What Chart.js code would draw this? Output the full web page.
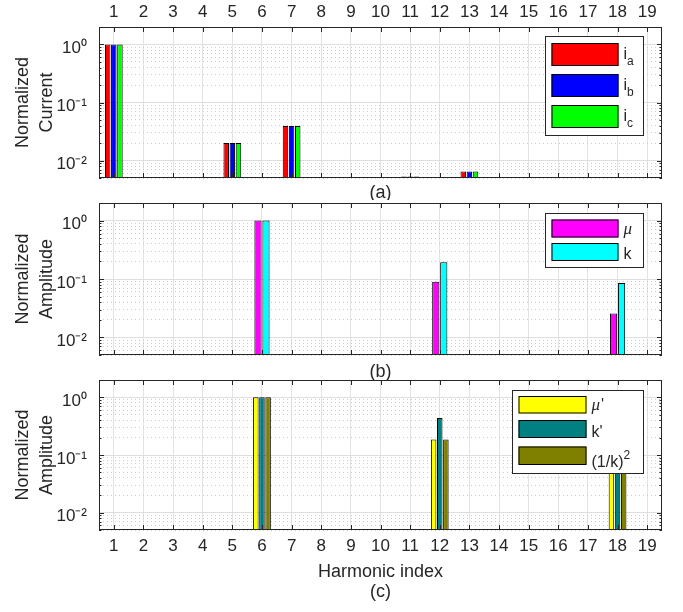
<!DOCTYPE html>
<html>
<head>
<meta charset="utf-8">
<script src="https://cdn.jsdelivr.net/npm/chart.js@4.4.0/dist/chart.umd.min.js"></script>
<style>
  html, body { margin: 0; padding: 0; background: #fff; }
  #wrap { position: relative; width: 683px; height: 612px; }
  .panel { position: absolute; left: 0; width: 683px; }
</style>
</head>
<body>
<div id="wrap">
  <div class="panel" style="top:0;height:200px"><canvas id="chartA"></canvas></div>
  <div class="panel" style="top:190px;height:196px"><canvas id="chartB"></canvas></div>
  <div class="panel" style="top:366px;height:246px"><canvas id="chartC"></canvas></div>
</div>
<script>
const harmonics = ['1','2','3','4','5','6','7','8','9','10','11','12','13','14','15','16','17','18','19'];

// (a) normalized phase currents (null = below the axis floor)
const currentA = [1, null, null, null, 0.0201, null, 0.0395, null, null, null, 0.0053, null, 0.0065, null, null, null, null, null, null];
const currentB = [1, null, null, null, 0.0201, null, 0.0395, null, null, null, 0.0053, null, 0.0065, null, null, null, null, null, null];
const currentC = [1, null, null, null, 0.0201, null, 0.0395, null, null, null, 0.0053, null, 0.0065, null, null, null, null, null, null];

// (b)
const mu = [null, null, null, null, null, 1, null, null, null, null, null, 0.0898, null, null, null, null, null, 0.0256, null];
const kAmp = [null, null, null, null, null, 1, null, null, null, null, null, 0.193, null, null, null, null, null, 0.085, null];

// (c)
const muPrime = [null, null, null, null, null, 1, null, null, null, null, null, 0.185, null, null, null, null, null, 0.08, null];
const kPrime = [null, null, null, null, null, 1, null, null, null, null, null, 0.44, null, null, null, null, null, 0.15, null];
const invK2 = [null, null, null, null, null, 1, null, null, null, null, null, 0.185, null, null, null, null, null, 0.08, null];

// log axis ticks
const yTickValues = [0.005, 0.006, 0.007, 0.008, 0.009, 0.01, 0.02, 0.03, 0.04, 0.05, 0.06, 0.07, 0.08, 0.09,
                     0.1, 0.2, 0.3, 0.4, 0.5, 0.6, 0.7, 0.8, 0.9, 1, 2];
const decadeLabels = { '0.01': '10\u207B\u00B2', '0.1': '10\u207B\u00B9', '1': '10\u2070' };

const TXT = '#262626';
const FONT = "'Liberation Sans', Arial, sans-serif";
Chart.defaults.font.family = FONT;
Chart.defaults.color = TXT;

// box, inside ticks on all four sides
const axesBox = {
  id: 'axesBox',
  afterDatasetsDraw(chart) {
    const { ctx, chartArea: a, scales: { x, y } } = chart;
    ctx.save();
    ctx.strokeStyle = TXT;
    ctx.lineWidth = 1;
    ctx.beginPath();
    x.ticks.forEach((t, i) => {
      const px = Math.round(x.getPixelForTick(i)) + 0.5;
      ctx.moveTo(px, a.top); ctx.lineTo(px, a.top + 5);
      ctx.moveTo(px, a.bottom); ctx.lineTo(px, a.bottom - 5);
    });
    y.ticks.forEach(t => {
      const py = Math.round(y.getPixelForValue(t.value)) + 0.5;
      const len = t.major ? 5 : 2.5;
      ctx.moveTo(a.left, py); ctx.lineTo(a.left + len, py);
      ctx.moveTo(a.right, py); ctx.lineTo(a.right - len, py);
    });
    ctx.stroke();
    ctx.strokeRect(Math.round(a.left) + 0.5, Math.round(a.top) + 0.5, Math.round(a.width) - 1, Math.round(a.height) - 1);
    ctx.restore();
  }
};

// "(a)" style caption under the plot
const caption = {
  id: 'caption',
  afterDraw(chart, args, o) {
    if (!o.text) return;
    const { ctx, chartArea: a } = chart;
    ctx.save();
    ctx.font = '18px ' + FONT;
    ctx.fillStyle = TXT;
    ctx.textAlign = 'center';
    ctx.textBaseline = 'middle';
    ctx.fillText(o.text, (a.left + a.right) / 2, a.bottom + o.offset);
    ctx.restore();
  }
};

// MATLAB-like legend box inside the axes
const boxLegend = {
  id: 'boxLegend',
  afterDraw(chart, args, o) {
    if (!o.labels) return;
    const { ctx, chartArea: a } = chart;
    const left = Math.round(a.right - o.right - o.width);
    const top = Math.round(a.top + o.top);
    ctx.save();
    ctx.fillStyle = '#fff';
    ctx.fillRect(left, top, o.width, o.height);
    ctx.strokeStyle = TXT;
    ctx.lineWidth = 1;
    ctx.strokeRect(left + 0.5, top + 0.5, o.width, o.height);
    o.labels.forEach((runs, i) => {
      const ds = chart.data.datasets[i];
      const [ry, rh] = o.rows[i];
      const bx = left + o.boxX, by = top + ry;
      ctx.fillStyle = ds.backgroundColor;
      ctx.fillRect(bx, by, o.boxW, rh);
      ctx.strokeStyle = '#000';
      ctx.strokeRect(bx + 0.5, by + 0.5, o.boxW - 1, rh - 1);
      let tx = bx + o.boxW + 5;
      const base = by + rh / 2 + (o.dy ? o.dy[i] : 6);
      ctx.fillStyle = TXT;
      ctx.textBaseline = 'alphabetic';
      runs.forEach(([t, kind]) => {
        let yy = base;
        if (kind === 'sub') { ctx.font = '12px ' + FONT; yy = base + 6; }
        else if (kind === 'sup') { ctx.font = '12px ' + FONT; yy = base - 8; }
        else if (kind === 'it') { ctx.font = "italic 17px 'Liberation Serif', serif"; }
        else { ctx.font = '16px ' + FONT; }
        ctx.fillText(t, tx, yy);
        tx += ctx.measureText(t).width + (kind === 'it' ? 1 : 0);
      });
    });
    ctx.restore();
  }
};

function makePanel(id, datasets, cfg) {
  return new Chart(document.getElementById(id), {
    type: 'bar',
    data: {
      labels: harmonics,
      datasets: datasets.map(d => Object.assign({
        borderColor: '#000',
        borderWidth: 1,
        borderSkipped: false,
        barPercentage: 0.9,
        categoryPercentage: cfg.catPct
      }, d))
    },
    options: {
      responsive: true,
      maintainAspectRatio: false,
      animation: false,
      layout: { padding: { top: cfg.padTop, right: 21, left: 0, bottom: cfg.padBottom } },
      plugins: {
        legend: { display: false },
        tooltip: { enabled: false },
        caption: { text: cfg.caption, offset: cfg.captionOffset },
        boxLegend: cfg.legend
      },
      scales: {
        x: {
          type: 'category',
          position: cfg.xPos,
          offset: true,
          grid: { offset: false, color: '#e3e3e3', drawTicks: false },
          border: { display: false },
          ticks: { display: cfg.xLabels, autoSkip: false, maxRotation: 0, padding: cfg.xPad, font: { size: 17 } },
          title: cfg.xTitle ? { display: true, text: cfg.xTitle, font: { size: 18 }, padding: { top: 0, bottom: 29 } } : { display: false },
          afterFit: s => { s.height = cfg.xHeight; }
        },
        y: {
          type: 'logarithmic',
          min: 0.005,
          max: 2,
          afterBuildTicks: s => {
            s.ticks = yTickValues.map(v => ({ value: v, major: decadeLabels[String(v)] !== undefined }));
          },
          grid: {
            drawTicks: true,
            tickLength: 12,
            tickColor: 'rgba(0,0,0,0)',
            color: c => (c.tick && c.tick.major) ? '#dedede' : '#cccccc'
          },
          border: { display: false, dash: c => (c.tick && !c.tick.major) ? [1, 3] : [] },
          ticks: {
            autoSkip: false,
            padding: 0,
            labelOffset: 4,
            font: { size: 17, lineHeight: 0.8 },
            callback: v => decadeLabels[String(v)] || ''
          },
          title: { display: true, text: cfg.yTitle, font: { size: 18, lineHeight: 1.333 }, padding: { top: 11, bottom: 0 } },
          afterFit: s => { s.width = 99; }
        }
      }
    },
    plugins: [axesBox, caption, boxLegend]
  });
}

makePanel('chartA', [
  { label: 'i_a', data: currentA, backgroundColor: '#ff0000' },
  { label: 'i_b', data: currentB, backgroundColor: '#0000ff' },
  { label: 'i_c', data: currentC, backgroundColor: '#00ff00' }
], {
  catPct: 0.62, padTop: 0, padBottom: 22, xPos: 'top', xLabels: true, xPad: 4, xHeight: 27,
  yTitle: ['Normalized', 'Current'], caption: '(a)', captionOffset: 15,
  legend: {
    right: 19, top: 9, width: 98, height: 99, boxX: 6.5, boxW: 67,
    rows: [[7, 23], [38, 23], [69, 23]], dy: [4, 4, 4],
    labels: [[['i'], ['a', 'sub']], [['i'], ['b', 'sub']], [['i'], ['c', 'sub']]]
  }
});

makePanel('chartB', [
  { label: 'mu', data: mu, backgroundColor: '#ff00ff' },
  { label: 'k', data: kAmp, backgroundColor: '#00ffff' }
], {
  catPct: 0.54, padTop: 13, padBottom: 0, xPos: 'bottom', xLabels: false, xPad: 0, xHeight: 31,
  yTitle: ['Normalized', 'Amplitude'], caption: '(b)', captionOffset: 17.5,
  legend: {
    right: 19, top: 10, width: 98, height: 54, boxX: 6.5, boxW: 67,
    rows: [[6.5, 18], [30, 18]], dy: [5, 6.5],
    labels: [[['\u03BC', 'it']], [['k']]]
  }
});

makePanel('chartC', [
  { label: "mu'", data: muPrime, backgroundColor: '#ffff00' },
  { label: "k'", data: kPrime, backgroundColor: '#008080' },
  { label: '(1/k)^2', data: invK2, backgroundColor: '#808000' }
], {
  catPct: 0.62, padTop: 14, padBottom: 0, xPos: 'bottom', xLabels: true, xPad: 6, xHeight: 82,
  xTitle: 'Harmonic index',
  yTitle: ['Normalized', 'Amplitude'], caption: '(c)', captionOffset: 62,
  legend: {
    right: 19, top: 10, width: 131, height: 83, boxX: 6.5, boxW: 68,
    rows: [[6, 17.5], [30, 18], [56.5, 18.5]], dy: [5, 7.5, 11],
    labels: [[['\u03BC', 'it'], ["'"]], [["k'"]], [['(1/k)'], ['2', 'sup']]]
  }
});
</script>
</body>
</html>
